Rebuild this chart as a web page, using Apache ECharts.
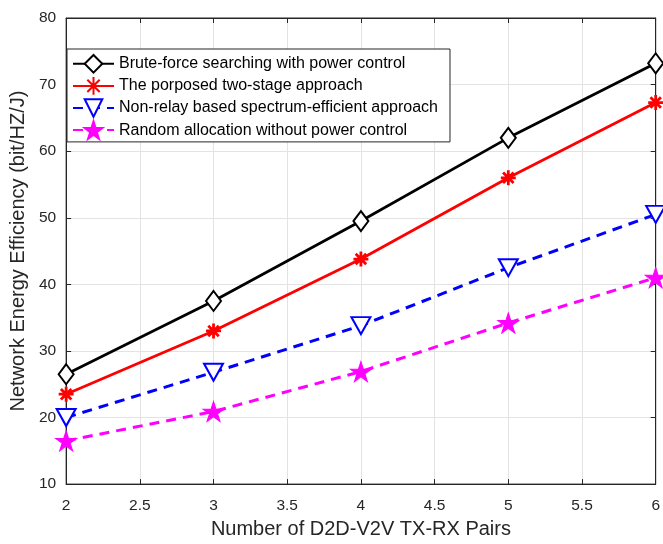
<!DOCTYPE html>
<html lang="en">
<head>
    <meta charset="utf-8">
    <title>Network Energy Efficiency</title>
    <script src="https://cdn.jsdelivr.net/npm/echarts@6/dist/echarts.min.js"></script>
    <style type="text/css">
        html, body { margin: 0; padding: 0; background: #fff; }
        #main { width: 663px; height: 544px; }
    </style>
</head>
<body>
<div id="main"></div>
<script type="text/javascript">
    // data
    var pairs = [2, 3, 4, 5, 6];
    var bruteForce = [26.5, 37.5, 49.5, 62.0, 73.2];
    var twoStage = [23.5, 33.0, 43.8, 56.0, 67.3];
    var nonRelay = [20.0, 26.8, 33.8, 42.5, 50.5];
    var randomAlloc = [16.5, 20.9, 26.9, 34.2, 41.0];
    var seriesNames = [
        'Brute-force searching with power control',
        'The porposed two-stage approach',
        'Non-relay based spectrum-efficient approach',
        'Random allocation without power control'
    ];

    function pts(ys) {
        return pairs.map(function (x, i) { return [x, ys[i]]; });
    }

    var starPath = 'path://M0,-10L2.245,-3.09L9.51,-3.09L3.633,1.18L5.88,8.09L0,3.82L-5.88,8.09L-3.633,1.18L-9.51,-3.09L-2.245,-3.09Z';
    var asteriskPath = 'path://M0,-10L0,10M-10,0L10,0M-7,-7L7,7M-7,7L7,-7';

    var font = 'Liberation Sans, Arial, sans-serif';
    var axisColor = '#262626';
    var gridColor = '#e3e3e3';

    var myChart = echarts.init(document.getElementById('main'));
    var option = {
        animation: false,
        backgroundColor: '#fff',
        grid: {
            left: 66, right: 7, top: 18, bottom: 59,
            show: true, borderColor: axisColor, borderWidth: 1
        },
        legend: {
            orient: 'vertical',
            left: 67, top: 49,
            padding: [5, 12, 2, 5],
            itemWidth: 41, itemHeight: 22, itemGap: 2.5,
            backgroundColor: '#fff',
            borderColor: axisColor, borderWidth: 1,
            textStyle: { fontFamily: font, fontSize: 16, color: '#000' },
            data: seriesNames
        },
        xAxis: [{
            type: 'value', min: 2, max: 6, interval: 0.5,
            name: 'Number of D2D-V2V TX-RX Pairs',
            nameLocation: 'middle', nameGap: 33,
            nameTextStyle: { fontFamily: font, fontSize: 20, color: axisColor },
            axisLine: { lineStyle: { color: axisColor } },
            axisTick: { inside: true, length: 5, lineStyle: { color: axisColor } },
            axisLabel: { fontFamily: font, fontSize: 15.5, color: axisColor, margin: 14 },
            splitLine: { show: true, lineStyle: { color: gridColor } }
        }, {
            type: 'value', min: 2, max: 6, interval: 0.5, position: 'top',
            axisLine: { lineStyle: { color: axisColor } },
            axisTick: { inside: true, length: 5, lineStyle: { color: axisColor } },
            axisLabel: { show: false },
            splitLine: { show: false }
        }],
        yAxis: [{
            type: 'value', min: 10, max: 80, interval: 10,
            name: 'Network Energy Efficiency (bit/HZ/J)',
            nameLocation: 'middle', nameGap: 37,
            nameTextStyle: { fontFamily: font, fontSize: 20, color: axisColor },
            axisLine: { show: true, lineStyle: { color: axisColor } },
            axisTick: { show: true, inside: true, length: 5, lineStyle: { color: axisColor } },
            axisLabel: { fontFamily: font, fontSize: 15.5, color: axisColor, margin: 10 },
            splitLine: { show: true, lineStyle: { color: gridColor } }
        }, {
            type: 'value', min: 10, max: 80, interval: 10, position: 'right',
            axisLine: { show: true, lineStyle: { color: axisColor } },
            axisTick: { show: true, inside: true, length: 5, lineStyle: { color: axisColor } },
            axisLabel: { show: false },
            splitLine: { show: false }
        }],
        series: [{
            name: seriesNames[0], type: 'line', data: pts(bruteForce),
            symbol: 'emptyDiamond', symbolSize: [15, 20],
            lineStyle: { color: '#000', width: 2.8 },
            itemStyle: { color: '#000', borderColor: '#000', borderWidth: 2.2 },
            z: 5
        }, {
            name: seriesNames[1], type: 'line', data: pts(twoStage),
            symbol: asteriskPath, symbolSize: 15,
            lineStyle: { color: '#ff0000', width: 2.8 },
            itemStyle: { color: '#ff0000', borderColor: '#ff0000', borderWidth: 2.8 },
            z: 4
        }, {
            name: seriesNames[2], type: 'line', data: pts(nonRelay),
            symbol: 'emptyTriangle', symbolRotate: 180, symbolSize: [19, 17],
            lineStyle: { color: '#0000ff', width: 3, type: [10, 7] },
            itemStyle: { color: '#0000ff', borderColor: '#0000ff', borderWidth: 2.2 },
            z: 3
        }, {
            name: seriesNames[3], type: 'line', data: pts(randomAlloc),
            symbol: starPath, symbolSize: [21, 20],
            lineStyle: { color: '#ff00ff', width: 3, type: [10, 7] },
            itemStyle: { color: '#ff00ff', borderColor: '#ff00ff', borderWidth: 1 },
            z: 2
        }]
    };
    myChart.setOption(option);
</script>
</body>
</html>
